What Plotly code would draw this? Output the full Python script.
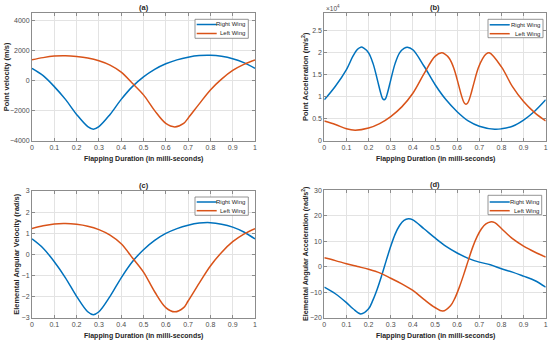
import plotly.graph_objects as go

# ---------------- data ----------------
# (a) point velocity (m/s)
a_right_x = [0, 0.05, 0.1, 0.15, 0.2, 0.25, 0.275, 0.3, 0.35, 0.4, 0.45, 0.5, 0.55, 0.6, 0.65, 0.7, 0.75, 0.8, 0.85, 0.9, 0.95, 1.0]
a_right_y = [820, 330, -400, -1250, -2250, -3060, -3230, -3060, -2250, -1250, -400, 250, 750, 1120, 1380, 1560, 1670, 1690, 1620, 1460, 1200, 820]
a_left_x = [0, 0.05, 0.1, 0.15, 0.2, 0.25, 0.3, 0.35, 0.4, 0.45, 0.5, 0.55, 0.6, 0.64, 0.68, 0.7, 0.75, 0.8, 0.85, 0.9, 0.95, 1.0]
a_left_y = [1380, 1530, 1630, 1650, 1600, 1500, 1320, 1030, 560, -180, -950, -2000, -2850, -3080, -2850, -2500, -1550, -620, 100, 680, 1080, 1380]

# (b) point acceleration (m/s^2)
b_right_x = [0, 0.05, 0.1, 0.13, 0.15, 0.165, 0.18, 0.2, 0.22, 0.24, 0.255, 0.263, 0.27, 0.277, 0.285, 0.3, 0.32, 0.34, 0.36, 0.375,
             0.4, 0.45, 0.5, 0.55, 0.6, 0.65, 0.7, 0.77, 0.8, 0.85, 0.9, 0.95, 1.0]
b_right_y = [9300, 12400, 16200, 19300, 20800, 21300, 21000, 20000, 17600, 13800, 10800, 9600, 9300, 9600, 10800, 13800, 17600, 20000, 21000, 21300,
             20700, 17000, 12800, 9300, 6600, 4500, 3300, 2600, 2700, 3300, 4700, 6700, 9300]
b_left_x = [0, 0.05, 0.1, 0.14, 0.2, 0.25, 0.3, 0.35, 0.4, 0.45, 0.5, 0.53, 0.545, 0.565, 0.585, 0.605, 0.62, 0.632, 0.64, 0.648,
            0.66, 0.675, 0.695, 0.715, 0.73, 0.745, 0.8, 0.85, 0.9, 0.95, 1.0]
b_left_y = [4500, 3700, 2700, 2400, 2900, 3900, 5500, 7700, 10800, 15200, 19200, 20000, 19700, 18700, 16500, 13000, 10200, 8600, 8300, 8600,
            10200, 13000, 16500, 18700, 19700, 20000, 16800, 12300, 8900, 6400, 4500]

# (c) elemental angular velocity (rad/s)
c_right_x = [0, 0.05, 0.1, 0.15, 0.2, 0.25, 0.275, 0.3, 0.35, 0.4, 0.45, 0.5, 0.55, 0.6, 0.65, 0.7, 0.75, 0.8, 0.85, 0.9, 0.95, 1.0]
c_right_y = [0.73, 0.29, -0.35, -1.11, -1.99, -2.72, -2.86, -2.72, -1.99, -1.11, -0.35, 0.22, 0.66, 0.99, 1.22, 1.38, 1.48, 1.50, 1.43, 1.29, 1.06, 0.73]
c_left_x = [0, 0.05, 0.1, 0.15, 0.2, 0.25, 0.3, 0.35, 0.4, 0.45, 0.5, 0.55, 0.6, 0.64, 0.68, 0.7, 0.75, 0.8, 0.85, 0.9, 0.95, 1.0]
c_left_y = [1.22, 1.35, 1.44, 1.46, 1.42, 1.33, 1.17, 0.91, 0.50, -0.16, -0.84, -1.77, -2.52, -2.72, -2.52, -2.21, -1.36, -0.55, 0.09, 0.60, 0.96, 1.22]

# (d) elemental angular acceleration (rad/s^2)
d_right_x = [0, 0.05, 0.1, 0.13, 0.165, 0.2, 0.22, 0.24, 0.26, 0.28, 0.3, 0.32, 0.34, 0.36, 0.38, 0.4, 0.45, 0.5, 0.55, 0.6, 0.65,
             0.7, 0.75, 0.8, 0.85, 0.9, 0.95, 1.0]
d_right_y = [-8.0, -10.6, -14.1, -16.5, -18.5, -16.5, -13.0, -8.5, -3.2, 2.5, 8.0, 12.8, 16.2, 18.2, 18.8, 18.4, 14.9, 11.3, 8.0, 5.4, 3.3,
             1.8, 0.8, -0.8, -2.1, -3.7, -5.4, -8.0]
d_left_x = [0, 0.05, 0.1, 0.15, 0.2, 0.25, 0.3, 0.35, 0.4, 0.45, 0.5, 0.535, 0.57, 0.59, 0.61, 0.63, 0.65, 0.67, 0.69, 0.71, 0.73,
            0.75, 0.77, 0.8, 0.85, 0.9, 0.95, 1.0]
d_left_y = [3.5, 2.4, 1.2, 0.1, -1.0, -2.4, -4.5, -6.7, -9.3, -12.8, -16.0, -17.4, -15.3, -12.3, -8.0, -3.0, 2.4, 7.6, 11.8, 14.9, 16.8,
            17.6, 17.3, 15.0, 11.0, 8.1, 5.8, 3.8]

x_ticks = [0, 0.1, 0.2, 0.3, 0.4, 0.5, 0.6, 0.7, 0.8, 0.9, 1]
x_tick_text = ["0", "0.1", "0.2", "0.3", "0.4", "0.5", "0.6", "0.7", "0.8", "0.9", "1"]
b_ticks = [0, 5000, 10000, 15000, 20000, 25000]
b_tick_text = ["0", "0.5", "1", "1.5", "2", "2.5"]

series_names = ["Right Wing", "Left Wing"]
BLUE = "#0072BD"
ORANGE = "#D95319"
FONT = "Liberation Sans, Arial, sans-serif"

# ---------------- figure ----------------
W, H = 550, 343
fig = go.Figure()

panels = [
    ("x", "y", (a_right_x, a_right_y), (a_left_x, a_left_y)),
    ("x2", "y2", (b_right_x, b_right_y), (b_left_x, b_left_y)),
    ("x3", "y3", (c_right_x, c_right_y), (c_left_x, c_left_y)),
    ("x4", "y4", (d_right_x, d_right_y), (d_left_x, d_left_y)),
]
for xa, ya, r, l in panels:
    fig.add_trace(go.Scatter(x=r[0], y=r[1], mode="lines", name=series_names[0], xaxis=xa, yaxis=ya,
                             showlegend=False, line=dict(color=BLUE, width=1.5, shape="spline", smoothing=1.0)))
    fig.add_trace(go.Scatter(x=l[0], y=l[1], mode="lines", name=series_names[1], xaxis=xa, yaxis=ya,
                             showlegend=False, line=dict(color=ORANGE, width=1.5, shape="spline", smoothing=1.0)))

def px_x(p):
    return p / W

def px_y(p):
    return 1 - p / H

# plot-area boxes in pixels (left, right, top, bottom)
boxes = {
    "a": (32, 255, 13, 140.7),
    "b": (324.3, 545.7, 13.3, 140.7),
    "c": (32, 255, 191, 317.7),
    "d": (324.3, 545.7, 190.3, 317.7),
}

tickfont = dict(family=FONT, size=7, color="#4d4d4d")
axis_common = dict(showgrid=True, gridcolor="#e3e3e3", gridwidth=1, zeroline=False,
                   showline=True, linecolor="#8c8c8c", linewidth=1, mirror="ticks",
                   ticks="inside", ticklen=3, tickcolor="#8c8c8c", tickfont=tickfont)

def xdom(k):
    b = boxes[k]
    return [px_x(b[0]), px_x(b[1])]

def ydom(k):
    b = boxes[k]
    return [px_y(b[3]), px_y(b[2])]

fig.update_layout(
    width=W, height=H,
    margin=dict(l=0, r=0, t=0, b=0, pad=0, autoexpand=False),
    paper_bgcolor="white", plot_bgcolor="white",
    font=dict(family=FONT, color="#262626"),
    showlegend=False,
    hovermode=False,
    xaxis=dict(domain=xdom("a"), anchor="y", range=[0, 1], tickvals=x_ticks, ticktext=x_tick_text, **axis_common),
    yaxis=dict(domain=ydom("a"), anchor="x", range=[-4000, 4500], tickvals=[-4000, -2000, 0, 2000, 4000], **axis_common),
    xaxis2=dict(domain=xdom("b"), anchor="y2", range=[0, 1], tickvals=x_ticks, ticktext=x_tick_text, **axis_common),
    yaxis2=dict(domain=ydom("b"), anchor="x2", range=[0, 29000], tickvals=b_ticks, ticktext=b_tick_text, **axis_common),
    xaxis3=dict(domain=xdom("c"), anchor="y3", range=[0, 1], tickvals=x_ticks, ticktext=x_tick_text, **axis_common),
    yaxis3=dict(domain=ydom("c"), anchor="x3", range=[-3, 3], tickvals=[-3, -2, -1, 0, 1, 2, 3], **axis_common),
    xaxis4=dict(domain=xdom("d"), anchor="y4", range=[0, 1], tickvals=x_ticks, ticktext=x_tick_text, **axis_common),
    yaxis4=dict(domain=ydom("d"), anchor="x4", range=[-20, 30], tickvals=[-20, -10, 0, 10, 20, 30], **axis_common),
)

bold = dict(family=FONT, size=7.5, color="#262626")
annotations = []
shapes = []

# panel titles
for lbl, k in [("(a)", "a"), ("(b)", "b"), ("(c)", "c"), ("(d)", "d")]:
    b = boxes[k]
    annotations.append(dict(text="<b>%s</b>" % lbl, x=px_x((b[0] + b[1]) / 2), y=px_y(b[2] - 6),
                            xref="paper", yref="paper", showarrow=False, font=bold,
                            xanchor="center", yanchor="middle"))
# x titles
for k in ["a", "b", "c", "d"]:
    b = boxes[k]
    annotations.append(dict(text="<b>Flapping Duration (in milli-seconds)</b>", x=px_x((b[0] + b[1]) / 2),
                            y=px_y(b[3] + 18.5), xref="paper", yref="paper", showarrow=False,
                            font=dict(family=FONT, size=7, color="#262626"),
                            xanchor="center", yanchor="middle"))
# y titles
ytitles = [
    ("<b>Point velocity (m/s)</b>", 6.5, "a", 7.5),
    ("<b>Point Acceleration (m/s<sup>2</sup>)</b>", 305, "b", 7.5),
    ("<b>Elemental Angular Velocity (rad/s)</b>", 16.5, "c", 7.5),
    ("<b>Elemental Angular Acceleration (rad/s<sup>2</sup>)</b>", 305, "d", 7.2),
]
for txt, xp, k, fs in ytitles:
    b = boxes[k]
    annotations.append(dict(text=txt, x=px_x(xp), y=px_y((b[2] + b[3]) / 2), xref="paper", yref="paper",
                            showarrow=False, font=dict(family=FONT, size=fs, color="#262626"),
                            textangle=-90, xanchor="center", yanchor="middle"))
# exponent label for (b)
annotations.append(dict(text="\u00d710<sup>4</sup>", x=px_x(324), y=px_y(8.5), xref="paper", yref="paper",
                        showarrow=False, font=dict(family=FONT, size=6.5, color="#4d4d4d"),
                        xanchor="left", yanchor="middle"))

# legends (box, line samples, labels) in pixel positions
legends = [
    # (box left, box right, box top, box bottom, row1 y, row2 y)
    (195, 248.3, 19.3, 38.3, 24.5, 33.5),
    (488, 543, 19.3, 37.7, 24.8, 33.7),
    (195, 248.3, 197, 215.3, 202, 210.7),
    (488, 541.7, 195.3, 214.7, 202, 210.7),
]
for (bl, br, bt, bb, r1, r2) in legends:
    shapes.append(dict(type="rect", xref="paper", yref="paper", x0=px_x(bl), x1=px_x(br), y0=px_y(bb), y1=px_y(bt),
                       line=dict(color="#7a7a7a", width=0.8), fillcolor="white", layer="above"))
    for name, color, ry in [(series_names[0], BLUE, r1), (series_names[1], ORANGE, r2)]:
        shapes.append(dict(type="line", xref="paper", yref="paper", x0=px_x(bl + 1.7), x1=px_x(bl + 21.7),
                           y0=px_y(ry), y1=px_y(ry), line=dict(color=color, width=1.5), layer="above"))
        annotations.append(dict(text=name, x=px_x(br - 1), y=px_y(ry), xref="paper", yref="paper",
                                showarrow=False, font=dict(family=FONT, size=6, color="#262626"),
                                xanchor="right", yanchor="middle"))

fig.update_layout(annotations=annotations, shapes=shapes)

fig.write_html("out.html", config={"displayModeBar": False},
               post_script="document.body.style.margin='0';document.body.style.overflow='hidden';")
